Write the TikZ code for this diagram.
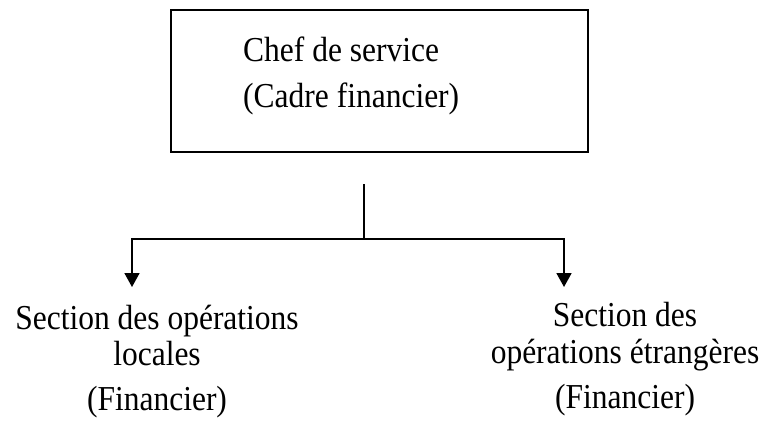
\documentclass[tikz,border=0pt]{standalone}
\usepackage{fontspec}
\setmainfont{Liberation Serif}[FakeStretch=0.9]
\usetikzlibrary{arrows.meta}
\begin{document}
\begin{tikzpicture}[x=1pt,y=-1pt,
  line/.style={line width=1.8pt},
  boxstyle/.style={draw,line width=1.8pt,rectangle,inner sep=0pt,minimum width=417pt,minimum height=142pt},
  lbl/.style={inner sep=0pt,font=\fontsize{35}{40}\selectfont},
  arr/.style={line width=1.8pt,line join=miter,-{Triangle[width=15pt,length=14pt]}}]
\useasboundingbox (0,0) rectangle (763,424);
% top box
\node[boxstyle] (chef) at (379.5,81) {};
\node[lbl,anchor=base west] (chefA) at (243,61) {Chef de service};
\node[lbl,anchor=base west] (chefB) at (243,107) {(Cadre financier)};
% left block
\node[lbl,anchor=base] (leftA) at (157,329) {Section des opérations};
\node[lbl,anchor=base] (leftB) at (157,365) {locales};
\node[lbl,anchor=base] (leftC) at (157,410) {(Financier)};
% right block
\node[lbl,anchor=base] (rightA) at (625,326) {Section des};
\node[lbl,anchor=base] (rightB) at (625,363) {opérations étrangères};
\node[lbl,anchor=base] (rightC) at (625,408) {(Financier)};
% connectors
\coordinate (stemtop) at (364,184);
\coordinate (junction) at (364,239);
\coordinate (lefttip) at (132,287);
\coordinate (righttip) at (564,287);
\draw[line] (stemtop) -- (junction);
\draw[arr] (junction) -| (lefttip);
\draw[arr] (junction) -| (righttip);
\end{tikzpicture}
\end{document}
